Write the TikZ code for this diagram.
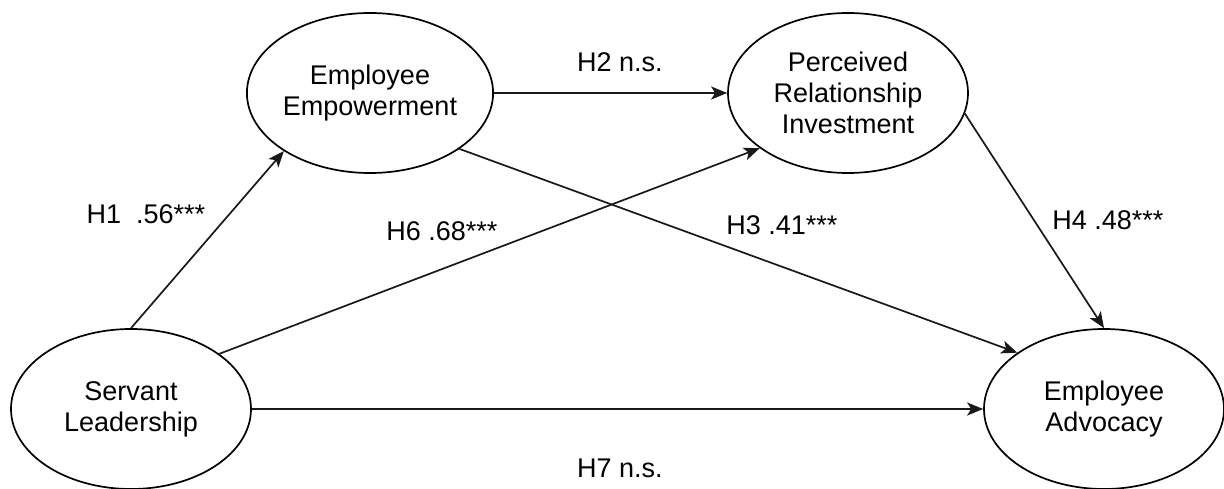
\documentclass[tikz,border=0pt]{standalone}
\usepackage{fontspec}
\setmainfont{Liberation Sans}
\usetikzlibrary{arrows.meta,shapes.geometric}
\begin{document}
\begin{tikzpicture}[x=1pt,y=-1pt,
  construct/.style={draw=black, line width=1.7pt, ellipse, minimum width=240pt, minimum height=160pt, inner sep=0pt, align=center, font=\fontsize{27}{31}\selectfont, text=black},
  lbl/.style={font=\fontsize{27}{31}\selectfont, text=black, inner sep=0pt},
  path/.style={draw=black!90, line width=1.7pt, -{Stealth[length=16pt,width=13pt,inset=4pt]}}
]
\useasboundingbox[fill=white] (0,0) rectangle (1224,489);
\node[construct] (ee) at (370,93) {Employee\\Empowerment};
\node[construct] (pri) at (848,93) {Perceived\\Relationship\\Investment};
\node[construct] (sl) at (131,409) {Servant\\Leadership};
\node[construct] (ea) at (1104,409) {Employee\\Advocacy};

\draw[path] (sl.north) -- (ee.214.6);
\draw[path] (sl.32) -- (pri.212.6);
\draw[path] (ee.east) -- (pri.west);
\draw[path] (ee.-32.3) -- (ea.147);
\draw[path] (pri.-10) -- (ea.north);
\draw[path] (sl.east) -- (ea.west);

\node[lbl] (h1) at (146,214) {H1\ \ .56***};
\node[lbl] (h2) at (620,62) {H2 n.s.};
\node[lbl] (h6) at (442,231) {H6 .68***};
\node[lbl] (h3) at (782,225) {H3 .41***};
\node[lbl] (h4) at (1108,220) {H4 .48***};
\node[lbl] (h7) at (620,468) {H7 n.s.};
\end{tikzpicture}
\end{document}
